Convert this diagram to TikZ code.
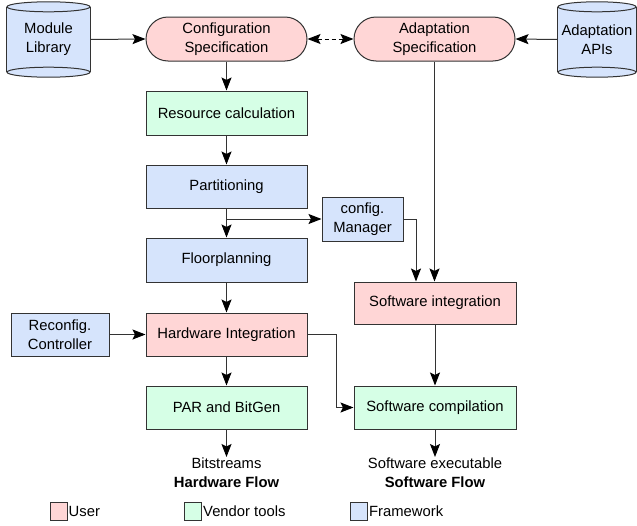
\documentclass[tikz,border=0pt]{standalone}
\usepackage{fontspec}
\setmainfont{Liberation Sans}
\usetikzlibrary{arrows.meta,calc,backgrounds}
\definecolor{userc}{RGB}{255,214,214}
\definecolor{vendc}{RGB}{214,255,230}
\definecolor{fwc}{RGB}{214,228,252}
\definecolor{linec}{RGB}{51,51,51}
\newcommand\drawcyl[2]{%
 \begin{pgfonlayer}{background}
 \fill[fwc] ([yshift=-5pt]#1.north west) rectangle ([yshift=5pt]#1.south east);
 \fill[fwc] ([yshift=5pt]#1.south) ellipse[x radius=#2,y radius=5pt];
 \draw[cylline] ([yshift=-5pt]#1.north west) -- ([yshift=5pt]#1.south west);
 \draw[cylline] ([yshift=-5pt]#1.north east) -- ([yshift=5pt]#1.south east);
 \draw[cylline,fill=fwc] ([yshift=-5pt]#1.north) ellipse[x radius=#2,y radius=5pt];
 \draw[cylline] ([yshift=5pt]#1.south) ellipse[x radius=#2,y radius=5pt];
 \end{pgfonlayer}}
\begin{document}
\begin{tikzpicture}[x=1pt,y=1pt,font=\fontsize{14.8}{19}\selectfont,
  box/.style={draw=linec,line width=1pt,minimum width=161pt,minimum height=44pt,inner sep=0pt,align=center},
  term/.style={box,fill=userc,rounded corners=22pt},
  userbox/.style={box,fill=userc},
  vendbox/.style={box,fill=vendc},
  fwbox/.style={box,fill=fwc},
  cyl/.style={inner sep=0pt,align=center,minimum height=75pt},
  cylline/.style={draw=linec,line width=1pt},
  arr/.style={draw=linec,line width=1pt,-{Stealth[length=13pt,width=10pt,inset=2.5pt,color=black]}},
  darr/.style={draw=black,line width=1pt,dash pattern=on 4pt off 3pt,{Stealth[length=13pt,width=10pt,inset=2.5pt]}-{Stealth[length=13pt,width=10pt,inset=2.5pt]}},
  legbox/.style={draw=linec,line width=1pt,minimum width=17pt,minimum height=18pt,inner sep=0pt},
  legtext/.style={anchor=west,inner sep=1pt},
  outtext/.style={anchor=north,inner sep=1pt,align=center}]
\useasboundingbox (0,0) rectangle (637,-525);
% nodes
\node[cyl,minimum width=83pt] (ml) at (48.5,-39.5) {Module\\Library};
\node[cyl,minimum width=78pt] (api) at (597,-39.5) {Adaptation\\APIs};
\drawcyl{ml}{41.5pt}
\drawcyl{api}{39pt}
\node[term] (cs) at (226.5,-39) {Configuration\\Specification};
\node[term] (as) at (434.5,-39) {Adaptation\\Specification};
\node[vendbox] (rc) at (226.5,-113) {Resource calculation};
\node[fwbox,minimum height=43pt] (part) at (226.5,-186.5) {Partitioning};
\node[fwbox] (floor) at (226.5,-260) {Floorplanning};
\node[userbox,minimum height=43pt] (hw) at (226.5,-334.5) {Hardware Integration};
\node[vendbox,minimum height=43pt] (par) at (226.5,-407.5) {PAR and BitGen};
\node[fwbox,minimum width=81pt] (cm) at (362.5,-219) {config.\\Manager};
\node[userbox,minimum width=162pt,minimum height=42pt] (si) at (435,-303) {Software integration};
\node[vendbox,minimum width=162pt,minimum height=43pt] (sc) at (435,-407.5) {Software compilation};
\node[fwbox,minimum width=98pt,minimum height=43pt] (rcc) at (60,-334.5) {Reconfig.\\Controller};
\node[outtext] (bs) at (226.5,-457) {Bitstreams\\\textbf{Hardware Flow}};
\node[outtext] (se) at (435,-457) {Software executable\\\textbf{Software Flow}};
% legend
\node[legbox,fill=userc] (lu) at (58.5,-511) {};
\node[legtext] (lut) at (lu.east) {User};
\node[legbox,fill=vendc] (lv) at (193,-511) {};
\node[legtext] (lvt) at (lv.east) {Vendor tools};
\node[legbox,fill=fwc] (lf) at (359,-511) {};
\node[legtext] (lft) at (lf.east) {Framework};
% connectors
\draw[arr] (ml.east) -- (cs.west);
\draw[arr] (api.west) -- (as.east);
\draw[darr] (cs.east) -- (as.west);
\draw[arr] (cs.south) -- (rc.north);
\draw[arr] (rc.south) -- (part.north);
\draw[arr] (part.south) -- (floor.north);
\draw[arr] (part.south |- cm.west) -- (cm.west);
\draw[arr] (cm.east) -| ([xshift=-19pt]si.north);
\draw[arr] (as.south) -- (as.south |- si.north);
\draw[arr] (floor.south) -- (hw.north);
\draw[arr] (rcc.east) -- (hw.west);
\draw[arr] (hw.east) -- ++(29,0) |- (sc.west);
\draw[arr] (hw.south) -- (par.north);
\draw[arr] (si.south) -- (sc.north);
\draw[arr] (par.south) -- (bs.north);
\draw[arr] (sc.south) -- (se.north);
\end{tikzpicture}
\end{document}
